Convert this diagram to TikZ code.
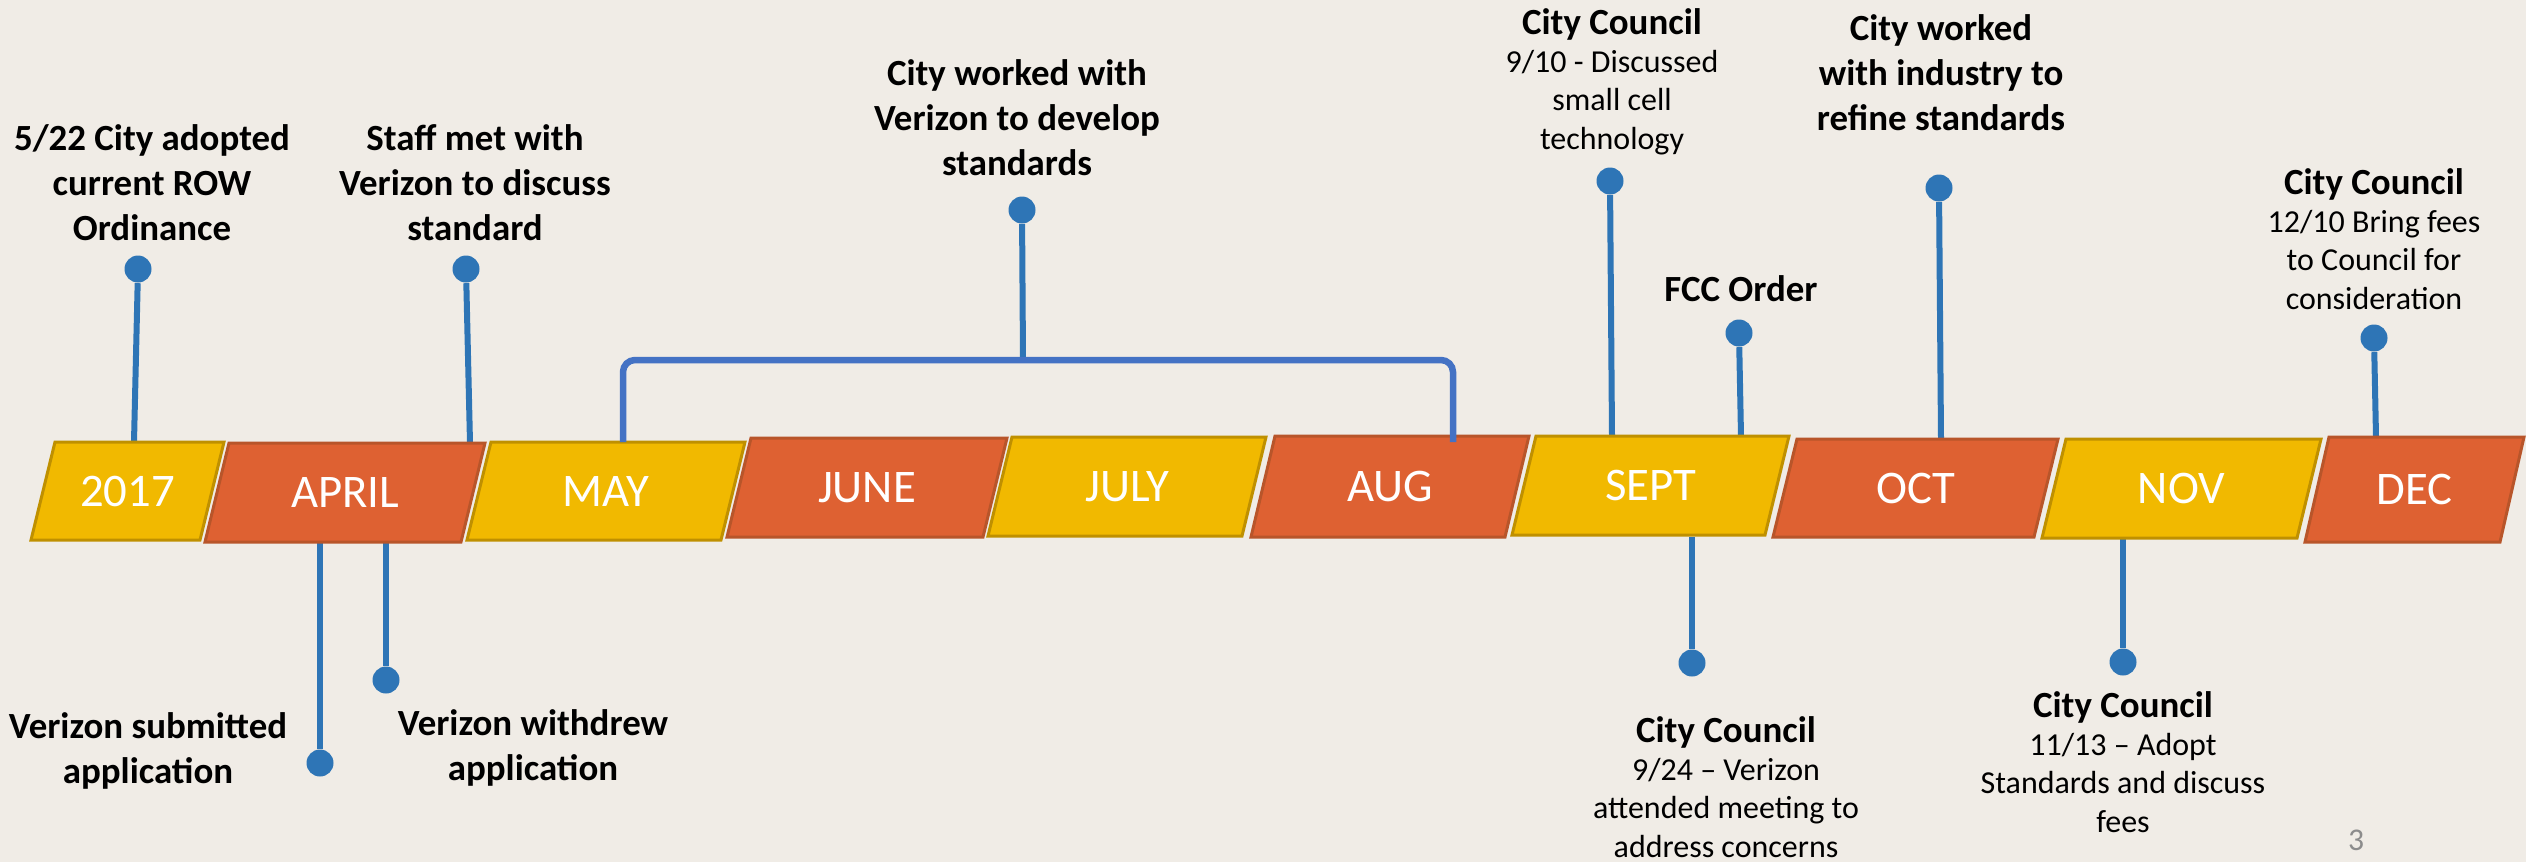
\documentclass[tikz,border=0pt]{standalone}
\usepackage{fontspec}
\setmainfont{Carlito}
\usetikzlibrary{positioning}
\definecolor{PageBg}{HTML}{F0ECE6}
\definecolor{MonthGold}{HTML}{F1B900}
\definecolor{GoldEdge}{HTML}{BF9000}
\definecolor{MonthOrange}{HTML}{DE6132}
\definecolor{OrangeEdge}{HTML}{B8552A}
\definecolor{StemBlue}{HTML}{2E75B6}
\definecolor{BracketBlue}{HTML}{4472C4}
\definecolor{PageNum}{HTML}{8C8C8C}

\tikzset{
  goldbox/.style={fill=MonthGold, draw=GoldEdge, line width=0.3mm},
  orangebox/.style={fill=MonthOrange, draw=OrangeEdge, line width=0.3mm},
  monthlabel/.style={text=white, inner sep=0pt, font=\fontsize{13.3pt}{16pt}\selectfont},
  dot/.style={circle, fill=StemBlue, inner sep=0pt, minimum size=2.7mm},
  stem/.style={draw=StemBlue, line width=0.6mm},
  % multi-line labels sit on the baseline of their last line
  event/.style={align=center, anchor=base, inner sep=0pt,
                font=\bfseries\fontsize{10.5pt}{12.8pt}\selectfont},
  council/.style={align=center, anchor=base, inner sep=0pt,
                  font=\fontsize{9.1pt}{10.9pt}\selectfont},
}
\newcommand{\cctitle}{{\bfseries\fontsize{10.5pt}{10.9pt}\selectfont City Council}}

\begin{document}
\begin{tikzpicture}[x=0.1mm, y=-0.1mm]
  \useasboundingbox (0,0) rectangle (2526,862);
  \fill[PageBg] (0,0) rectangle (2526,862);

  % points where the stems meet the month bar
  \coordinate (tAdopt) at (134,442);
  \coordinate (tStaff) at (470,443);
  \coordinate (tCouncilA) at (1612,436);
  \coordinate (tFcc) at (1741,436);
  \coordinate (tIndustry) at (1941,439);
  \coordinate (tCouncilD) at (2376,437);
  \coordinate (bSubmit) at (320,542);
  \coordinate (bWithdrew) at (386,542);
  \coordinate (bCouncilB) at (1692,537);
  \coordinate (bCouncilC) at (2123,538);
  \coordinate (brL) at (623,442);
  \coordinate (brR) at (1453,442);
  \coordinate (brMid) at (1023,360);

  % dots
  \node[dot] (dAdopt) at (138,269) {};
  \node[dot] (dStaff) at (466,269) {};
  \node[dot] (dWork) at (1022,210) {};
  \node[dot] (dCouncilA) at (1610,181) {};
  \node[dot] (dFcc) at (1739,333) {};
  \node[dot] (dIndustry) at (1939,188) {};
  \node[dot] (dCouncilD) at (2374,338) {};
  \node[dot] (dSubmit) at (320,763) {};
  \node[dot] (dWithdrew) at (386,680) {};
  \node[dot] (dCouncilB) at (1692,663) {};
  \node[dot] (dCouncilC) at (2123,662) {};

  % stems
  \draw[stem] (dAdopt) -- (tAdopt);
  \draw[stem] (dStaff) -- (tStaff);
  \draw[stem] (dWork) -- (brMid);
  \draw[stem] (dCouncilA) -- (tCouncilA);
  \draw[stem] (dFcc) -- (tFcc);
  \draw[stem] (dIndustry) -- (tIndustry);
  \draw[stem] (dCouncilD) -- (tCouncilD);
  \draw[stem] (bSubmit) -- (dSubmit);
  \draw[stem] (bWithdrew) -- (dWithdrew);
  \draw[stem] (bCouncilB) -- (dCouncilB);
  \draw[stem] (bCouncilC) -- (dCouncilC);

  % month bar
  \foreach \xl/\xr/\yt/\yb/\kind/\mname/\mtext in {
      55/224/442/540/goldbox/m2017/2017,
      229/485/443/542/orangebox/mApr/APRIL,
      491/745/442/540/goldbox/mMay/MAY,
      751/1007/438/537/orangebox/mJun/JUNE,
      1012/1266/437/536/goldbox/mJul/JULY,
      1275/1529/436/537/orangebox/mAug/AUG,
      1536/1789/436/535/goldbox/mSep/SEPT,
      1797/2058/439/537/orangebox/mOct/OCT,
      2066/2321/439/538/goldbox/mNov/NOV,
      2329/2524/437/542/orangebox/mDec/DEC}
  {
    \draw[\kind] (\xl,\yt) -- (\xr,\yt) -- (\xr-24,\yb) -- (\xl-24,\yb) -- cycle;
    \node[monthlabel] (\mname) at ({(\xl+\xr)/2-12},{(\yt+\yb)/2}) {\mtext};
  }

  % May--Aug bracket
  \draw[BracketBlue, line width=0.65mm, rounded corners=1.2mm]
    (brL) |- (brMid) -| (brR);

  % labels above the bar
  \node[event] (evAdopt) at (152,240) {5/22 City adopted\\current ROW\\Ordinance};
  \node[event] (evStaff) at (475,240) {Staff met with\\Verizon to discuss\\standard};
  \node[event] (evWork) at (1017,175) {City worked with\\Verizon to develop\\standards};
  \node[council] (evCouncilA) at (1612,149) {\cctitle\\9/10 - Discussed\\small cell\\technology};
  \node[event] (evFcc) at (1741,301) {FCC Order};
  \node[event] (evIndustry) at (1941,130) {City worked\\with industry to\\refine standards};
  \node[council] (evCouncilD) at (2374,309) {\cctitle\\12/10 Bring fees\\to Council for\\consideration};

  % labels below the bar
  \node[event] (evSubmit) at (148,783) {Verizon submitted\\application};
  \node[event] (evWithdrew) at (533,780) {Verizon withdrew\\application};
  \node[council] (evCouncilB) at (1726,857) {\cctitle\\9/24 -- Verizon\\attended meeting to\\address concerns};
  \node[council] (evCouncilC) at (2123,832) {\cctitle\\11/13 -- Adopt\\Standards and discuss\\fees};

  \node[anchor=base, inner sep=0pt, text=PageNum, font=\fontsize{9pt}{11pt}\selectfont]
    (pageNo) at (2356,850) {3};
\end{tikzpicture}
\end{document}
